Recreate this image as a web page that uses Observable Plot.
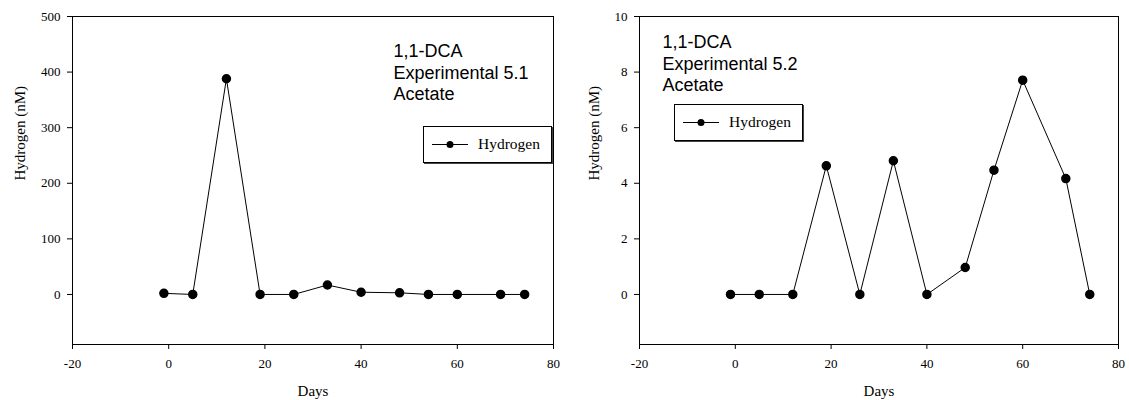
<!DOCTYPE html>
<html>
<head>
<meta charset="utf-8">
<script src="https://cdn.jsdelivr.net/npm/d3@7"></script>
<script src="https://cdn.jsdelivr.net/npm/@observablehq/plot@0.6"></script>
<style>
  html, body { margin: 0; padding: 0; background: #fff; }
  #wrap { position: relative; width: 1129px; height: 400px; display: flex; }
  .legend { position: absolute; background: #fff; border: 1px solid #000; box-shadow: 1px 1px 0 #444; box-sizing: border-box; }
  .legend svg { display: block; }
</style>
</head>
<body>
<div id="wrap"></div>
<script>
// ---- data ----
const days = [-1, 5, 12, 19, 26, 33, 40, 48, 54, 60, 69, 74];
const hydrogen51 = [2, 0, 388, 0, 0, 17, 4, 3, 0, 0, 0, 0];
const hydrogen52 = [0, 0, 0, 4.63, 0, 4.81, 0, 0.97, 4.47, 7.71, 4.17, 0];
const xTicks = [-20, 0, 20, 40, 60, 80];
const yTicks51 = [0, 100, 200, 300, 400, 500];
const yTicks52 = [0, 2, 4, 6, 8, 10];
const notes = ["1,1-DCA\nExperimental 5.1\nAcetate", "1,1-DCA\nExperimental 5.2\nAcetate"];
const seriesName = "Hydrogen";
const xLabel = "Days";
const yLabel = "Hydrogen (nM)";

function panel({values, yDomain, yTicks, width, marginLeft, note, noteDx, noteDy, yLabelDx}) {
  const data = days.map((d, i) => ({day: d, h: values[i]}));
  return Plot.plot({
    width, height: 400,
    marginLeft, marginRight: 11, marginTop: 16, marginBottom: 56,
    style: {fontFamily: "'Liberation Serif', 'Times New Roman', serif", fontSize: "13px", color: "#000", background: "#fff"},
    x: {domain: [-20, 80]},
    y: {domain: yDomain},
    marks: [
      Plot.frame({stroke: "#000", strokeWidth: 1}),
      Plot.axisX({ticks: xTicks, tickSize: 5, tickPadding: 9, label: null, tickFormat: d => String(d)}),
      Plot.axisY({ticks: yTicks, tickSize: 5, tickPadding: 7, label: null, tickFormat: d => String(d)}),
      Plot.line(data, {x: "day", y: "h", stroke: "#000", strokeWidth: 1}),
      Plot.dot(data, {x: "day", y: "h", r: 4, fill: "#000", stroke: "#000"}),
      Plot.text([note], {text: d => d, frameAnchor: "top-left", textAnchor: "start", lineAnchor: "top",
        dx: noteDx, dy: noteDy, fontSize: 18, lineHeight: 1.17,
        fontFamily: "'Liberation Sans', Arial, sans-serif", fill: "#000"}),
      Plot.text([xLabel], {text: d => d, frameAnchor: "bottom", lineAnchor: "middle", dy: 47, fontSize: 15, fill: "#000"}),
      Plot.text([yLabel], {text: d => d, frameAnchor: "left", lineAnchor: "middle", rotate: -90, dx: yLabelDx, fontSize: 15, fill: "#000"})
    ]
  });
}

function legend(left, top, w, h) {
  const div = document.createElement("div");
  div.className = "legend";
  Object.assign(div.style, {left: left + "px", top: top + "px", width: w + "px", height: h + "px"});
  const svg = d3.create("svg").attr("width", w - 2).attr("height", h - 2);
  const cy = (h - 2) / 2;
  svg.append("line").attr("x1", 8).attr("x2", 44).attr("y1", cy).attr("y2", cy).attr("stroke", "#000");
  svg.append("circle").attr("cx", 26).attr("cy", cy).attr("r", 3.5).attr("fill", "#000");
  svg.append("text").attr("x", 54).attr("y", cy).attr("dy", "0.32em")
    .attr("font-family", "'Liberation Serif', 'Times New Roman', serif").attr("font-size", 15.5).text(seriesName);
  div.appendChild(svg.node());
  return div;
}

const wrap = document.getElementById("wrap");
wrap.appendChild(panel({values: hydrogen51, yDomain: [-90, 500], yTicks: yTicks51, width: 564, marginLeft: 72,
  note: notes[0], noteDx: 321, noteDy: 26, yLabelDx: -52}));
wrap.appendChild(panel({values: hydrogen52, yDomain: [-1.8, 10], yTicks: yTicks52, width: 565, marginLeft: 75,
  note: notes[1], noteDx: 23, noteDy: 17, yLabelDx: -45}));
wrap.appendChild(legend(423, 126, 129, 37));
wrap.appendChild(legend(674, 104, 129, 37));
</script>
</body>
</html>
